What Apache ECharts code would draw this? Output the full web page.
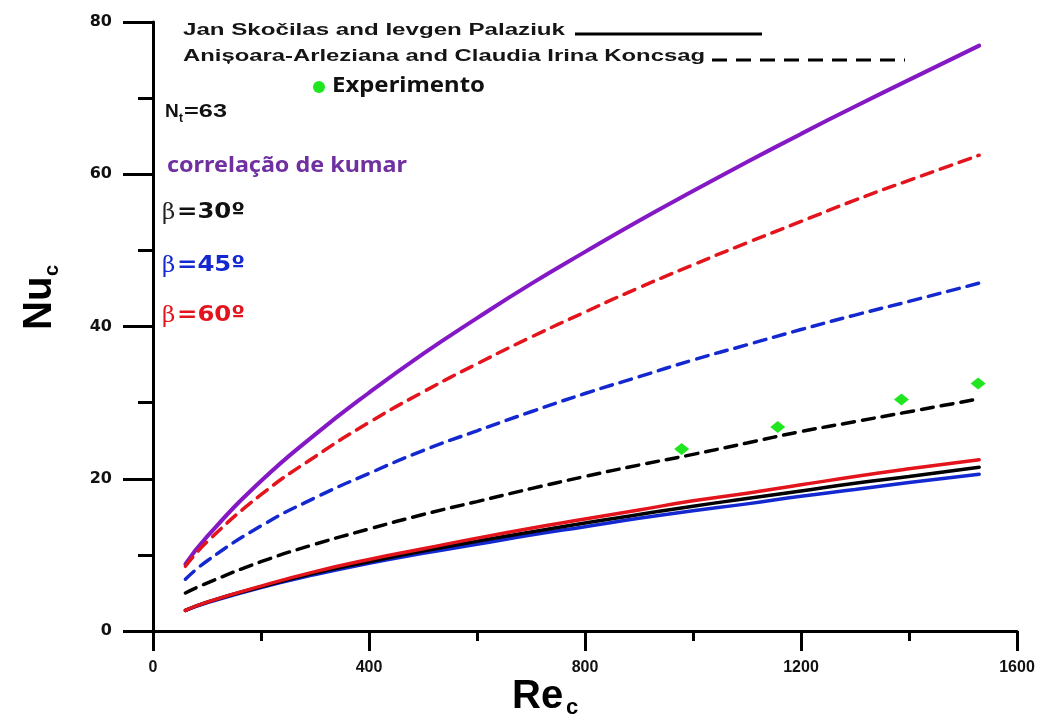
<!DOCTYPE html>
<html>
<head>
<meta charset="utf-8">
<script src="https://cdn.jsdelivr.net/npm/echarts@6/dist/echarts.min.js"></script>
<style>html,body{margin:0;padding:0;background:#fff}#c{width:1045px;height:720px}</style>
</head>
<body>
<div id="c"></div>
<script>
// Reynolds numbers where curves were read
const reValues = [60, 100, 200, 300, 400, 500, 600, 700, 800, 900, 1000, 1100, 1200, 1300, 1400, 1530];
// correlação de kumar (purple solid)
const kumar = [8.8, 12.4, 19.7, 25.8, 31.3, 36.4, 41.1, 45.6, 49.8, 53.9, 57.8, 61.6, 65.3, 68.9, 72.4, 76.9];
// Anișoara-Arleziana and Claudia Irina Koncsag (dashed)
const koncsag60 = [8.5, 11.7, 17.9, 22.9, 27.4, 31.4, 35.1, 38.6, 41.9, 45.1, 48.1, 51.0, 53.8, 56.6, 59.2, 62.5];
const koncsag45 = [6.8, 9.2, 13.8, 17.5, 20.7, 23.7, 26.3, 28.8, 31.2, 33.4, 35.6, 37.6, 39.6, 41.5, 43.3, 45.7];
const koncsag30 = [5.0, 6.3, 9.1, 11.4, 13.4, 15.3, 17.0, 18.7, 20.3, 21.8, 23.2, 24.7, 26.2, 27.5, 28.8, 30.5];
// Jan Skočilas and Ievgen Palaziuk (solid)
const skocilas60 = [2.7, 3.8, 5.9, 7.8, 9.4, 10.8, 12.2, 13.5, 14.7, 15.9, 17.1, 18.1, 19.2, 20.3, 21.3, 22.5];
const skocilas30 = [2.7, 3.8, 5.8, 7.6, 9.1, 10.5, 11.8, 13.0, 14.2, 15.3, 16.4, 17.4, 18.4, 19.4, 20.3, 21.5];
const skocilas45 = [2.7, 3.7, 5.7, 7.4, 8.9, 10.2, 11.4, 12.6, 13.7, 14.8, 15.8, 16.7, 17.7, 18.6, 19.5, 20.6];
// Experimento
const expRe = [979, 1157, 1386, 1528];
const expNu = [23.9, 26.8, 30.4, 32.5];
// axis ticks
const xTicks = [0, 400, 800, 1200, 1600];
const yTicks = [0, 20, 40, 60, 80];

const PURPLE = '#8418c4', RED = '#e3141c', BLUE = '#1428d0', BLACK = '#000000', GREEN = '#1fe61f';
const pair = arr => reValues.map((r, i) => [r, arr[i]]);
function line(name, arr, color, dashed, w) {
  return {
    type: 'line', name, data: pair(arr), smooth: true, showSymbol: false, symbol: 'none',
    lineStyle: { color, width: w || 3.5, type: dashed ? [12, 8] : 'solid', cap: 'round' }
  };
}
const mctx = document.createElement('canvas').getContext('2d');
function fit(text, font, w) { mctx.font = font; return w / mctx.measureText(text).width; }
function txt(text, x, y, font, fill, targetW) {
  const el = { type: 'text', x, y, style: { text, font, fill, textVerticalAlign: 'middle', textAlign: 'left' } };
  if (targetW) el.scaleX = fit(text, font, targetW);
  return el;
}
const F1 = 'bold 16px "Liberation Sans", Arial, sans-serif';
const FB = 'bold 22px "DejaVu Sans", sans-serif';
const FBeta = '23px "DejaVu Serif", serif';

const chart = echarts.init(document.getElementById('c'), null, { renderer: 'canvas' });
chart.setOption({
  animation: false,
  backgroundColor: '#fff',
  grid: { left: 153, right: 28, top: 22, bottom: 89, containLabel: false },
  xAxis: {
    type: 'value', min: xTicks[0], max: xTicks[xTicks.length - 1], interval: 400,
    axisLine: { onZero: false, lineStyle: { color: '#000', width: 3 } },
    axisTick: { show: true, length: 20, lineStyle: { color: '#000', width: 3 } },
    minorTick: { show: true, splitNumber: 2, length: 10, lineStyle: { color: '#000', width: 3 } },
    splitLine: { show: false },
    axisLabel: { margin: 29, formatter: v => String(v), color: '#111', fontWeight: 'bold', fontSize: 16, fontFamily: 'Liberation Sans, Arial, sans-serif' }
  },
  yAxis: {
    type: 'value', min: yTicks[0], max: yTicks[yTicks.length - 1], interval: 20,
    axisLine: { onZero: false, lineStyle: { color: '#000', width: 3 } },
    axisTick: { show: true, length: 30, lineStyle: { color: '#000', width: 3 } },
    minorTick: { show: true, splitNumber: 2, length: 15, lineStyle: { color: '#000', width: 3 } },
    splitLine: { show: false },
    axisLabel: { margin: 41, formatter: v => String(v), color: '#111', fontWeight: 'bold', fontSize: 16, fontFamily: 'DejaVu Sans, sans-serif' }
  },
  series: [
    line('kumar', kumar, PURPLE, false, 4),
    line('Koncsag β=60', koncsag60, RED, true),
    line('Koncsag β=45', koncsag45, BLUE, true),
    line('Koncsag β=30', koncsag30, BLACK, true),
    line('Skočilas β=45', skocilas45, BLUE, false),
    line('Skočilas β=30', skocilas30, BLACK, false),
    line('Skočilas β=60', skocilas60, RED, false),
    {
      type: 'scatter', name: 'Experimento', data: expRe.map((r, i) => [r, expNu[i]]),
      symbol: 'diamond', symbolSize: [15, 12], itemStyle: { color: GREEN, opacity: 1 }, z: 5
    }
  ],
  graphic: [
    txt('Jan Skočilas and Ievgen Palaziuk', 183, 31, F1, '#151515', 382),
    { type: 'line', shape: { x1: 575, y1: 34, x2: 762, y2: 34 }, style: { stroke: '#000', lineWidth: 3 } },
    txt('Anișoara-Arleziana and Claudia Irina Koncsag', 183, 57, F1, '#151515', 522),
    { type: 'line', shape: { x1: 712, y1: 60, x2: 905, y2: 60 }, style: { stroke: '#000', lineWidth: 3, lineDash: [15, 9] } },
    { type: 'circle', shape: { cx: 319, cy: 87, r: 6 }, style: { fill: GREEN } },
    txt('Experimento', 332, 86, 'bold 21px "Noto Sans", sans-serif', '#111', 153),
    txt('N', 165, 112, 'bold 19px "Liberation Sans", Arial, sans-serif', '#111'),
    txt('t', 179, 119, 'bold 12px "Liberation Sans", Arial, sans-serif', '#111'),
    txt('=63', 184, 112, 'bold 19px "Liberation Sans", Arial, sans-serif', '#111', 43),
    txt('correlação de kumar', 167, 166, 'bold 22px "Noto Sans", sans-serif', '#7030a0', 240),
    txt('β', 162, 213, FBeta, '#222'),
    txt('=30º', 177, 212, FB, '#111', 68),
    txt('β', 162, 266, FBeta, BLUE),
    txt('=45º', 177, 265, FB, BLUE, 68),
    txt('β', 162, 316, FBeta, RED),
    txt('=60º', 177, 315, FB, RED, 68),
    // axis titles
    { type: 'group', x: 38, y: 292, rotation: Math.PI / 2, children: [
      { type: 'text', x: -38, y: -18, style: { text: 'Nu', font: 'bold 40px "Liberation Sans", Arial, sans-serif', fill: '#000' } },
      { type: 'text', x: 16, y: 4, style: { text: 'c', font: 'bold 20px "Liberation Sans", Arial, sans-serif', fill: '#000' } }
    ] },
    { type: 'text', left: 512, top: 677, style: { text: 'Re', font: 'bold 40px "Liberation Sans", Arial, sans-serif', fill: '#000' } },
    { type: 'text', left: 566, top: 697, style: { text: 'c', font: 'bold 22px "Liberation Sans", Arial, sans-serif', fill: '#000' } }
  ]
});
</script>
</body>
</html>
